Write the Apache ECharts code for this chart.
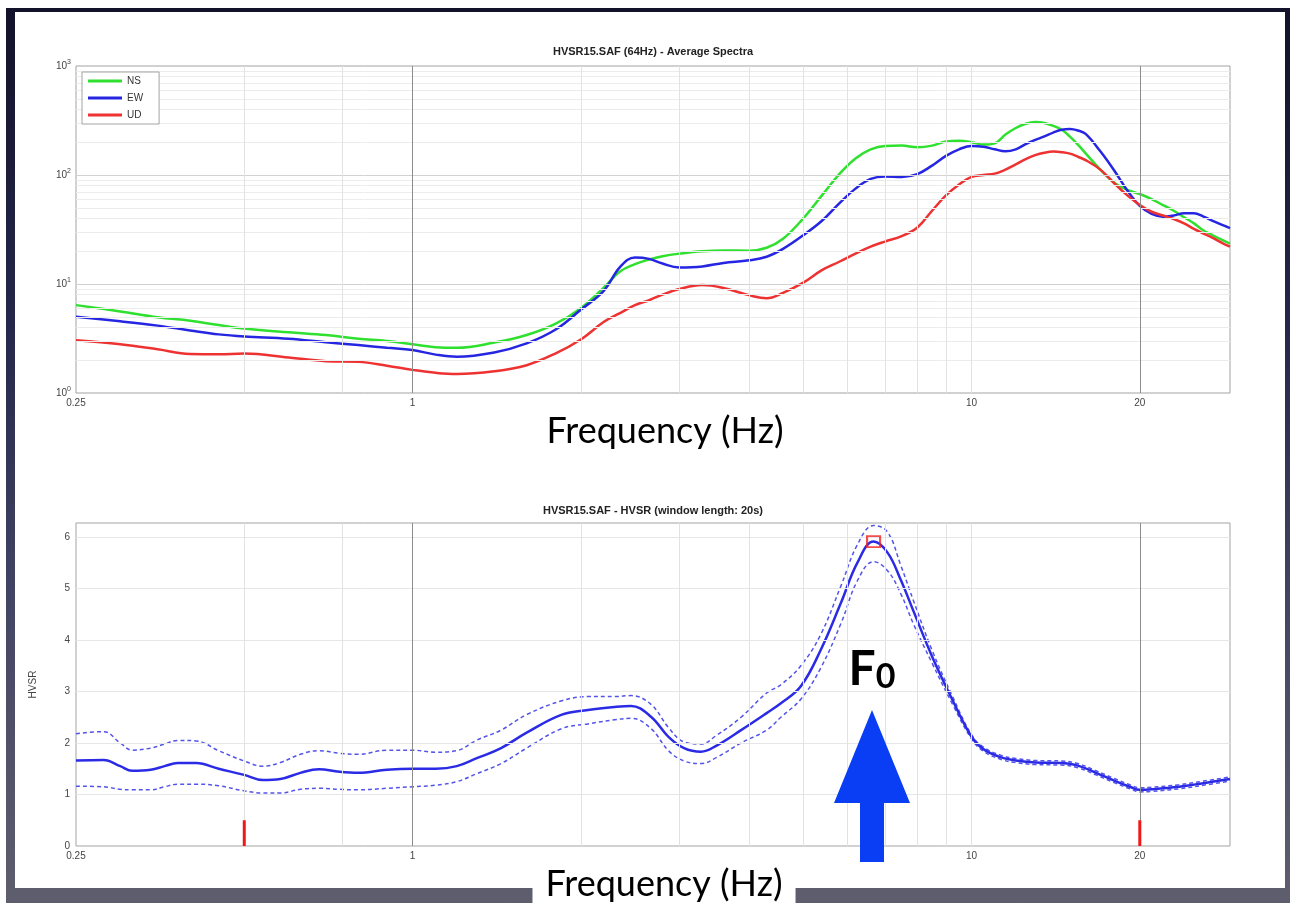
<!DOCTYPE html>
<html>
<head>
<meta charset="utf-8">
<title>HVSR15.SAF</title>
<script src="https://cdn.jsdelivr.net/npm/echarts@6/dist/echarts.min.js"></script>
<style>
  html, body { margin: 0; padding: 0; background: #fff; }
  #frame { position: absolute; left: 6px; top: 8px; width: 1284px; height: 895px;
    background: linear-gradient(to bottom, #12122a 0%, #26264a 35%, #474766 70%, #5e5e6e 100%); }
  #panel { position: absolute; left: 15px; top: 12px; width: 1270px; height: 876px; background: #fff; }
  #chart { position: absolute; left: 0; top: 0; width: 1290px; height: 903px; }
</style>
</head>
<body>
<div id="frame"></div>
<div id="panel"></div>
<div id="chart"></div>
<script>
// ---- Average spectra (top panel) ----
const fTop = [0.25, 0.3, 0.35, 0.4, 0.45, 0.5, 0.6, 0.7, 0.8, 0.9,
  1.0, 1.1, 1.2, 1.4, 1.6, 1.8, 2.0, 2.2, 2.35, 2.5,
  2.65, 2.8, 3.0, 3.3, 3.6, 4.0, 4.3, 4.6, 5.0, 5.4,
  5.8, 6.2, 6.6, 7.0, 7.5, 8.0, 8.5, 9.0, 9.5, 10,
  10.5, 11, 11.5, 12, 12.5, 13, 13.5, 14, 14.5, 15,
  15.5, 16, 17, 18, 19, 20, 21, 22, 23, 24,
  25, 26, 27, 28, 29];
const ns = [6.4, 5.6, 4.95, 4.6, 4.2, 3.9, 3.6, 3.4, 3.15, 3.0,
  2.8, 2.63, 2.6, 2.9, 3.4, 4.3, 6.0, 9.3, 13.0, 15.2,
  16.8, 18, 19, 20, 20.3, 20.2, 21.5, 26, 40, 65,
  102, 142, 172, 185, 186, 180, 186, 203, 206, 200,
  190, 195, 235, 270, 295, 306, 300, 282, 260, 225,
  190, 158, 112, 85, 73, 67, 60, 53, 47, 41,
  36, 31, 28, 25.5, 23.5];
const ew = [5.0, 4.55, 4.15, 3.75, 3.45, 3.3, 3.15, 2.92, 2.75, 2.6,
  2.48, 2.25, 2.15, 2.35, 2.85, 3.8, 5.8, 8.7, 14.3, 17.5,
  17.0, 15.4, 14.2, 14.5, 15.6, 16.5, 17.8, 21, 28, 38,
  55, 75, 92, 97, 96, 102, 122, 150, 172, 185,
  182, 172, 165, 172, 192, 210, 226, 245, 260, 264,
  256, 238, 165, 110, 72, 52, 44, 41.5, 42.5, 44.5,
  44.5, 41.5, 38, 35, 32.5];
const ud = [3.05, 2.8, 2.52, 2.28, 2.27, 2.3, 2.12, 1.96, 1.93, 1.78,
  1.63, 1.53, 1.49, 1.58, 1.8, 2.3, 3.1, 4.5, 5.4, 6.4,
  7.1, 8.0, 9.0, 9.8, 9.2, 7.9, 7.4, 8.3, 10.3, 13.4,
  16, 19, 22, 24.5, 27.5, 33, 47, 65, 82, 96,
  100, 103, 112, 125, 140, 152, 160, 164, 162, 157,
  147, 137, 112, 84, 65, 53, 46, 42.5, 39.5, 36,
  32, 29, 26.5, 24, 22];

// ---- H/V spectral ratio (bottom panel) ----
const fHv = [0.25, 0.28, 0.3, 0.315, 0.34, 0.36, 0.38, 0.41, 0.45, 0.5,
  0.54, 0.58, 0.63, 0.68, 0.74, 0.8, 0.9, 1.0, 1.1, 1.2,
  1.3, 1.44, 1.6, 1.85, 2.06, 2.3, 2.46, 2.67, 2.87, 3.06,
  3.28, 3.5, 3.87, 4.3, 4.56, 4.95, 5.37, 5.84, 6.25, 6.68,
  7.07, 7.47, 7.88, 8.5, 9.25, 10, 10.5, 11.3, 12, 13,
  14.5, 15.5, 16.7, 18, 19.2, 20, 21, 23.5, 26, 29];
const hvMean = [1.66, 1.67, 1.55, 1.46, 1.48, 1.55, 1.61, 1.61, 1.50, 1.38,
  1.28, 1.30, 1.42, 1.49, 1.44, 1.42, 1.48, 1.50, 1.50, 1.55,
  1.70, 1.90, 2.20, 2.55, 2.64, 2.70, 2.72, 2.51, 2.12, 1.90,
  1.83, 1.95, 2.25, 2.58, 2.77, 3.10, 3.80, 4.72, 5.50, 5.91,
  5.70, 5.17, 4.55, 3.68, 2.83, 2.12, 1.88, 1.72, 1.66, 1.62,
  1.61, 1.56, 1.42, 1.27, 1.15, 1.09, 1.10, 1.15, 1.22, 1.30];
const hvUpper = [2.18, 2.22, 2.00, 1.86, 1.90, 1.98, 2.05, 2.04, 1.85, 1.65,
  1.55, 1.62, 1.78, 1.85, 1.80, 1.78, 1.86, 1.86, 1.82, 1.85,
  2.05, 2.25, 2.55, 2.82, 2.90, 2.90, 2.92, 2.75, 2.30, 2.02,
  1.98, 2.15, 2.50, 2.97, 3.13, 3.50, 4.10, 5.05, 5.85, 6.22,
  6.10, 5.45, 4.75, 3.80, 2.90, 2.16, 1.92, 1.76, 1.70, 1.66,
  1.65, 1.60, 1.46, 1.31, 1.19, 1.13, 1.14, 1.19, 1.26, 1.34];
const hvLower = [1.16, 1.15, 1.10, 1.09, 1.09, 1.15, 1.20, 1.20, 1.17, 1.07,
  1.03, 1.03, 1.10, 1.12, 1.10, 1.09, 1.12, 1.15, 1.18, 1.25,
  1.40, 1.60, 1.90, 2.28, 2.37, 2.45, 2.48, 2.28, 1.85, 1.65,
  1.60, 1.72, 2.00, 2.25, 2.50, 2.85, 3.45, 4.32, 5.15, 5.52,
  5.35, 4.90, 4.30, 3.55, 2.75, 2.08, 1.84, 1.68, 1.62, 1.58,
  1.57, 1.52, 1.38, 1.23, 1.11, 1.05, 1.06, 1.11, 1.18, 1.26];

// H/V peak (F0) and the analysed frequency range limits
const f0 = 6.68;
const a0 = 5.91;
const limitFreqs = [0.5, 20];
const limitHeight = 0.5;

// Axis ticks
const xLabelValues = [0.25, 1, 10, 20];
const xLightGrid = [0.5, 0.75, 2, 3, 4, 5, 6, 7, 8, 9, 10];
const xDarkGrid = [1, 20];
const yTopDecades = [10, 100];

const fMin = 0.25, fMax = 29;

const pairs = (xs, ys) => xs.map((x, i) => [x, ys[i]]);
const minorY = [];
[1, 10, 100].forEach(d => { for (let k = 2; k <= 9; k++) minorY.push(d * k); });

const axisFont = '"Liberation Sans", Arial, sans-serif';
const line = (axis, v, color) => ({ [axis]: v, lineStyle: { color: color, width: 1, type: 'solid' }, label: { show: false } });
const xLabel = v => ({
  xAxis: v, lineStyle: { color: 'rgba(0,0,0,0)', width: 1 },
  label: { show: true, position: 'start', formatter: String(v), distance: 5,
    fontSize: 10, color: '#444', fontFamily: axisFont }
});

function gridHelper(idx, yMin, hLines) {
  const data = [];
  hLines.forEach(h => data.push(line('yAxis', h.v, h.c)));
  xLightGrid.forEach(v => data.push(line('xAxis', v, '#e2e2e2')));
  xDarkGrid.forEach(v => data.push(line('xAxis', v, '#8c8c8c')));
  xLabelValues.forEach(v => data.push(xLabel(v)));
  return {
    type: 'line', xAxisIndex: idx, yAxisIndex: idx, data: [[fMin, yMin]],
    symbol: 'none', lineStyle: { opacity: 0 }, silent: true, z: 1,
    markLine: { silent: true, symbol: ['none', 'none'], animation: false,
      label: { show: false }, emphasis: { disabled: true }, data: data }
  };
}

const topH = minorY.map(v => ({ v: v, c: '#ececec' }))
  .concat(yTopDecades.map(v => ({ v: v, c: '#d2d2d2' })));
const botH = [1, 2, 3, 4, 5, 6].map(v => ({ v: v, c: '#e6e6e6' }));

const xAxisBase = (idx) => ({
  type: 'log', logBase: 10, gridIndex: idx, min: fMin, max: fMax,
  axisLine: { show: false }, axisTick: { show: false },
  axisLabel: { show: false }, splitLine: { show: false }
});

const chart = echarts.init(document.getElementById('chart'));
const option = {
  animation: false,
  backgroundColor: 'transparent',
  grid: [
    { left: 76, top: 66, width: 1154, height: 327, show: true, borderColor: '#a3a3a3', borderWidth: 1, backgroundColor: 'transparent' },
    { left: 76, top: 523, width: 1154, height: 323, show: true, borderColor: '#a3a3a3', borderWidth: 1, backgroundColor: 'transparent' }
  ],
  xAxis: [xAxisBase(0), xAxisBase(1)],
  yAxis: [
    { type: 'log', logBase: 10, gridIndex: 0, min: 1, max: 1000,
      axisLine: { show: false }, axisTick: { show: false }, splitLine: { show: false },
      axisLabel: { margin: 5, formatter: v => '{b|10}{s|' + Math.round(Math.log10(v)) + '}',
        rich: { b: { fontSize: 10, color: '#444', fontFamily: axisFont },
                s: { fontSize: 7, color: '#444', fontFamily: axisFont, padding: [0, 0, 8, 0] } } } },
    { type: 'value', gridIndex: 1, min: 0, max: 6.27, interval: 1,
      name: 'HVSR', nameLocation: 'middle', nameGap: 38,
      nameTextStyle: { fontSize: 10, color: '#444', fontFamily: axisFont },
      axisLine: { show: false }, axisTick: { show: false }, splitLine: { show: false },
      axisLabel: { margin: 6, fontSize: 10, color: '#444', fontFamily: axisFont, showMaxLabel: false } }
  ],
  legend: {
    data: ['NS', 'EW', 'UD'], left: 82, top: 72, orient: 'vertical', z: 20,
    icon: 'rect', itemWidth: 34, itemHeight: 3, itemGap: 7,
    backgroundColor: '#fff', borderColor: '#a3a3a3', borderWidth: 1, borderRadius: 0,
    padding: [4, 16, 4, 6],
    textStyle: { fontSize: 10, color: '#333', fontFamily: axisFont }
  },
  series: [
    gridHelper(0, 1, topH),
    { name: 'NS', type: 'line', xAxisIndex: 0, yAxisIndex: 0, data: pairs(fTop, ns), smooth: 0.4,
      symbol: 'none', lineStyle: { color: '#2fe02f', width: 2.5 }, itemStyle: { color: '#2fe02f' }, z: 3 },
    { name: 'EW', type: 'line', xAxisIndex: 0, yAxisIndex: 0, data: pairs(fTop, ew), smooth: 0.4,
      symbol: 'none', lineStyle: { color: '#2626e2', width: 2.5 }, itemStyle: { color: '#2626e2' }, z: 3 },
    { name: 'UD', type: 'line', xAxisIndex: 0, yAxisIndex: 0, data: pairs(fTop, ud), smooth: 0.4,
      symbol: 'none', lineStyle: { color: '#ee3232', width: 2.5 }, itemStyle: { color: '#ee3232' }, z: 3 },
    gridHelper(1, 0, botH),
    { name: 'H/V +std', type: 'line', xAxisIndex: 1, yAxisIndex: 1, data: pairs(fHv, hvUpper), smooth: 0.4,
      symbol: 'none', lineStyle: { color: '#5454ea', width: 1.5, type: [4, 3] }, z: 3 },
    { name: 'H/V -std', type: 'line', xAxisIndex: 1, yAxisIndex: 1, data: pairs(fHv, hvLower), smooth: 0.4,
      symbol: 'none', lineStyle: { color: '#5454ea', width: 1.5, type: [4, 3] }, z: 3 },
    { name: 'H/V', type: 'line', xAxisIndex: 1, yAxisIndex: 1, data: pairs(fHv, hvMean), smooth: 0.4,
      symbol: 'none', lineStyle: { color: '#2b2be6', width: 2.5 }, z: 4 },
    { name: 'F0', type: 'scatter', xAxisIndex: 1, yAxisIndex: 1, data: [[f0, a0]],
      symbol: 'rect', symbolSize: [13, 11],
      itemStyle: { color: 'rgba(0,0,0,0)', borderColor: '#f02020', borderWidth: 2 }, z: 6 }
  ].concat(limitFreqs.map(f => ({
    name: 'limit', type: 'line', xAxisIndex: 1, yAxisIndex: 1,
    data: [[f, 0], [f, limitHeight]], symbol: 'none',
    lineStyle: { color: '#f01818', width: 3 }, z: 5
  })))
};
chart.setOption(option);

// Annotations: titles, axis captions and the F0 arrow
const peakPx = chart.convertToPixel({ gridIndex: 1 }, [f0, a0]);
const cx = Math.round(peakPx[0]) - 2;
const bigFont = 'Lato, "Open Sans", sans-serif';
chart.setOption({
  graphic: [
    { type: 'text', x: 653, y: 52, z: 10,
      style: { text: 'HVSR15.SAF (64Hz) - Average Spectra', font: 'bold 11px "Liberation Sans", Arial, sans-serif',
        fill: '#222', align: 'center', verticalAlign: 'middle' } },
    { type: 'text', x: 653, y: 511, z: 10,
      style: { text: 'HVSR15.SAF - HVSR (window length: 20s)', font: 'bold 11px "Liberation Sans", Arial, sans-serif',
        fill: '#222', align: 'center', verticalAlign: 'middle' } },
    { type: 'text', x: 665, y: 431, z: 10,
      style: { text: 'Frequency (Hz)', font: '36px ' + bigFont, fill: '#000', align: 'center', verticalAlign: 'middle' } },
    { type: 'text', x: 664, y: 884, z: 10,
      style: { text: 'Frequency (Hz)', font: '36px ' + bigFont, fill: '#000', align: 'center', verticalAlign: 'middle',
        backgroundColor: '#fff', padding: [2, 13, 6, 13] } },
    { type: 'text', x: cx, y: 670, z: 10,
      style: { text: '{f|F}{z|0}', align: 'center', verticalAlign: 'middle',
        rich: { f: { font: 'bold 48px ' + bigFont, fill: '#000', verticalAlign: 'bottom' },
                z: { font: 'bold 34px ' + bigFont, fill: '#000', verticalAlign: 'bottom' } } } },
    { type: 'polygon', z: 10,
      shape: { points: [[cx, 710], [cx + 38, 803], [cx + 12, 803], [cx + 12, 862],
                        [cx - 12, 862], [cx - 12, 803], [cx - 38, 803]] },
      style: { fill: '#0a3ef5' } }
  ]
});
</script>
</body>
</html>
